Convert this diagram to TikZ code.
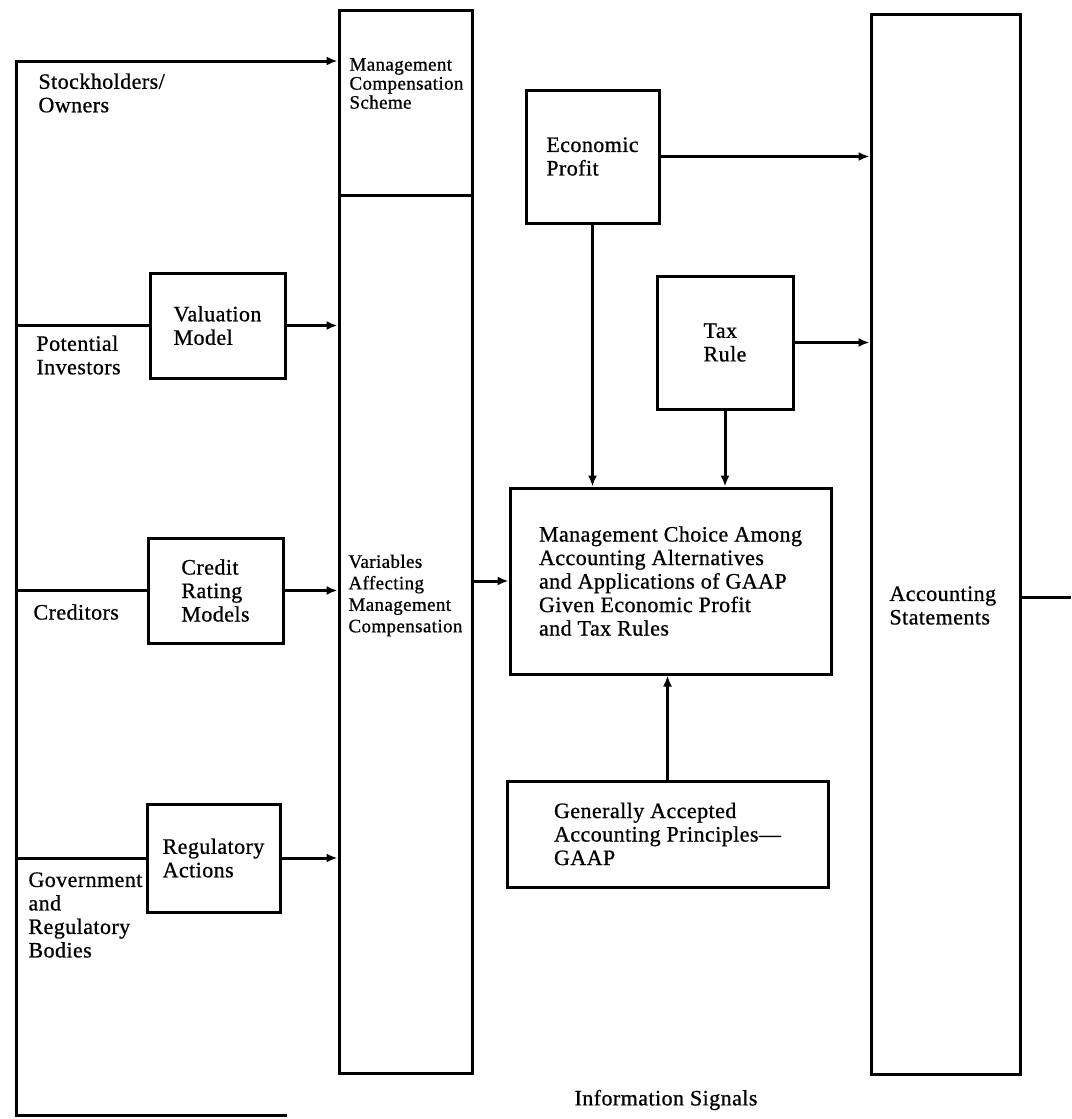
\documentclass[tikz,border=0pt]{standalone}
\usepackage{fontspec}
\setmainfont{Liberation Serif}[LetterSpace=2.0,FakeBold=0.8]
\usetikzlibrary{arrows.meta}
\newcommand\bigtxt{\fontsize{22}{23.5}\selectfont}
\newcommand\smalltxt{\fontsize{19}{19}\selectfont}
\newcommand\midtxt{\fontsize{19}{21.5}\selectfont}
\begin{document}
\begin{tikzpicture}[x=1pt,y=-1pt,line width=3pt,
  box/.style={draw,rectangle,inner sep=0pt,align=left,font=\bigtxt},
  col/.style={draw,rectangle,inner sep=0pt},
  arr/.style={-{Latex[length=11pt,width=9pt]}},
  lbl/.style={inner sep=0pt,align=left,anchor=west,font=\bigtxt}]
\useasboundingbox (0,0) rectangle (1071,1119);

% tall columns
\node[col,minimum width=133pt,minimum height=185pt] (mcs) at (405.5,102.5) {};
\node[col,minimum width=133pt,minimum height=878pt] (vars) at (405.5,634) {};
\node[col,minimum width=149pt,minimum height=1060pt] (acc) at (945.5,544) {};

% column texts
\node[lbl,font=\smalltxt] (mcst) at (348,83.5) {Management\\Compensation\\Scheme};
\node[lbl,font=\midtxt] (varst) at (347,595.5) {Variables\\Affecting\\Management\\Compensation};
\node[lbl] (acct) at (888,605.5) {Accounting\\Statements};

% boxes
\node[box,minimum width=135pt,minimum height=105pt] (val) at (217.5,325.5) {Valuation\\Model};
\node[box,minimum width=135pt,minimum height=105pt] (cred) at (215.5,590.5) {Credit\\Rating\\Models};
\node[box,minimum width=133pt,minimum height=108pt] (reg) at (213.5,858) {Regulatory\\Actions};
\node[box,minimum width=133pt,minimum height=133pt] (ep) at (592.5,156.5) {Economic\\Profit};
\node[box,minimum width=136pt,minimum height=133pt] (tax) at (725,342.5) {Tax\\Rule};
\node[box,minimum width=321pt,minimum height=186pt] (mc) at (670.5,581) {Management Choice Among\\Accounting Alternatives\\and Applications of GAAP\\Given Economic Profit\\and Tax Rules};
\node[box,minimum width=321pt,minimum height=106pt] (gaap) at (667.5,834) {Generally Accepted\\Accounting Principles---\\GAAP};

% left labels
\node[lbl] (stock) at (37,93) {Stockholders/\\Owners};
\node[lbl] (pinv) at (35,355) {Potential\\Investors};
\node[lbl] (credl) at (32,612) {Creditors};
\node[lbl] (gov) at (27,915) {Government\\and\\Regulatory\\Bodies};
\node[inner sep=0pt,font=\bigtxt] (info) at (666,1100) {Information Signals};

% outer connector
\coordinate (c0) at (287,1115);
\coordinate (c1) at (16,1115);
\coordinate (c2) at (16,61);
\coordinate (out) at (1071,597);
\draw[arr] (c0) -- (c1) -- (c2) -- (c2 -| mcs.west);
\draw (c2 |- val.west) -- (val.west);
\draw (c2 |- cred.west) -- (cred.west);
\draw (c2 |- reg.west) -- (reg.west);

% arrows into variables column
\draw[arr] (val.east) -- (val.east -| vars.west);
\draw[arr] (cred.east) -- (cred.east -| vars.west);
\draw[arr] (reg.east) -- (reg.east -| vars.west);

% variables to management choice
\draw[arr] (mc.west -| vars.east) -- (mc.west);

% economic profit and tax rule
\draw[arr] (ep.east) -- (ep.east -| acc.west);
\draw[arr] (tax.east) -- (tax.east -| acc.west);
\draw[arr] (ep.south) -- (ep.south |- mc.north);
\draw[arr] (tax.south) -- (tax.south |- mc.north);
\draw[arr] (gaap.north) -- (gaap.north |- mc.south);

% accounting statements out
\draw (out -| acc.east) -- (out);
\end{tikzpicture}
\end{document}
